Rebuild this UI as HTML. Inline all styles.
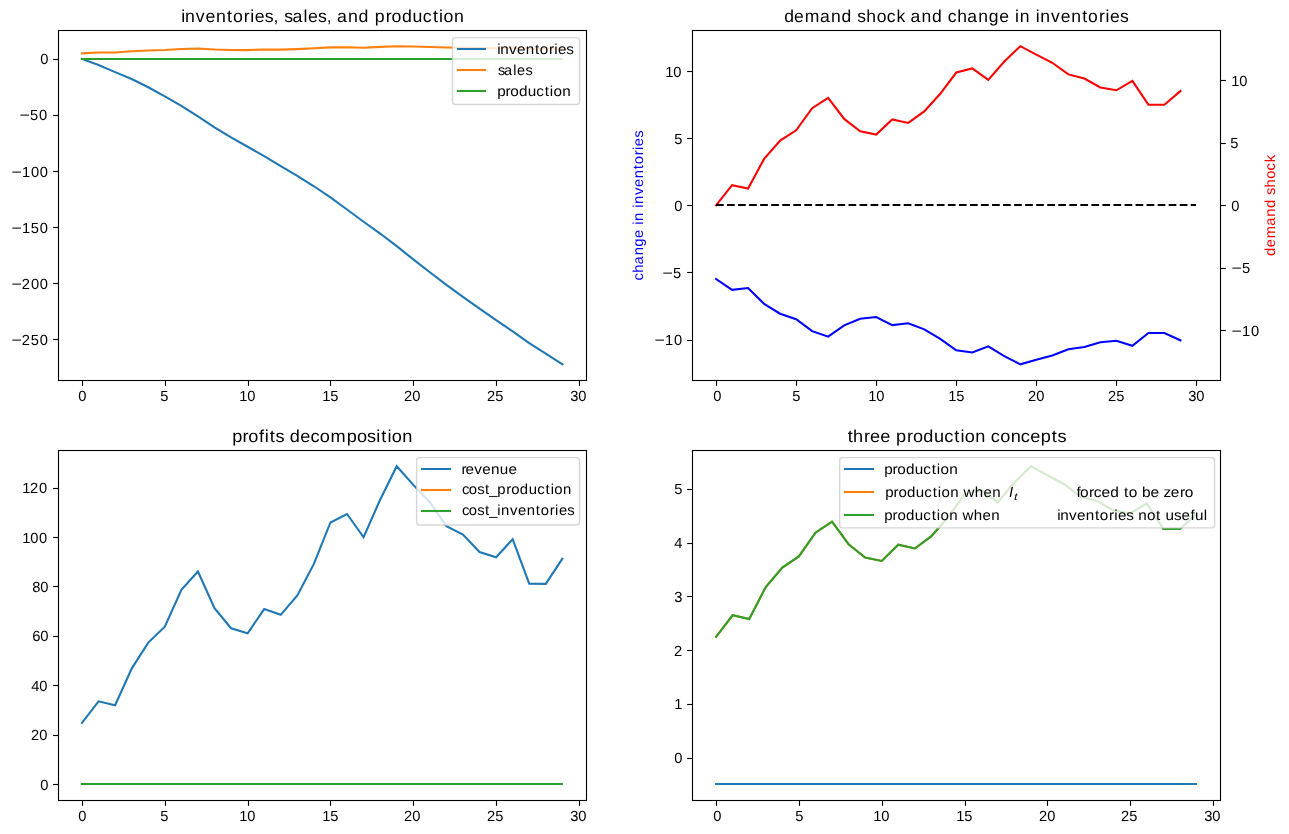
<!DOCTYPE html>
<html><head><meta charset="utf-8"><title>inventories</title>
<style>html,body{margin:0;padding:0;background:#fff}svg{display:block;will-change:transform}text{font-family:"Liberation Sans",sans-serif;white-space:pre;text-rendering:geometricPrecision}</style>
</head><body>
<svg width="1289" height="834" viewBox="0 0 1289 834" font-family="'Liberation Sans', sans-serif">
<rect width="1289" height="834" fill="#fff"/>
<polyline points="81.99,58.93 98.55,65.08 115.12,72.13 131.68,79.03 148.25,87.26 164.81,96.30 181.38,105.81 197.94,116.31 214.50,127.27 231.07,137.28 247.63,146.75 264.20,156.07 280.76,166.06 297.33,175.90 313.89,186.25 330.46,197.39 347.02,209.49 363.59,221.76 380.15,233.53 396.71,246.11 413.28,259.38 429.84,272.27 446.41,284.80 462.97,296.81 479.54,308.63 496.10,320.05 512.67,331.35 529.23,343.07 545.80,353.72 562.36,364.37" fill="none" stroke="#1f77b4" stroke-width="2.083" stroke-linejoin="miter" stroke-miterlimit="10" stroke-linecap="square" />
<polyline points="81.99,53.32 98.55,52.42 115.12,52.57 131.68,51.24 148.25,50.43 164.81,49.96 181.38,48.97 197.94,48.51 214.50,49.45 231.07,50.00 247.63,50.15 264.20,49.47 280.76,49.63 297.33,49.11 313.89,48.32 330.46,47.37 347.02,47.19 363.59,47.70 380.15,46.88 396.71,46.19 413.28,46.57 429.84,46.93 446.41,47.45 462.97,47.64 479.54,48.04 496.10,48.17 512.67,47.75 529.23,48.81 545.80,48.82 562.36,48.20" fill="none" stroke="#ff7f0e" stroke-width="2.083" stroke-linejoin="miter" stroke-miterlimit="10" stroke-linecap="square" />
<line x1="82" y1="59" x2="562" y2="59" stroke="#2ca02c" stroke-width="2.083" stroke-linecap="square" />
<polyline points="716.08,279.04 732.09,289.83 748.10,287.99 764.12,303.91 780.13,313.70 796.14,319.27 812.15,331.13 828.17,336.63 844.18,325.37 860.19,318.73 876.20,316.99 892.22,325.10 908.23,323.22 924.24,329.39 940.25,338.84 956.27,350.24 972.28,352.46 988.29,346.29 1004.30,356.11 1020.32,364.37 1036.33,359.83 1052.34,355.47 1068.35,349.24 1084.36,347.02 1100.38,342.20 1116.39,340.72 1132.40,345.75 1148.41,333.01 1164.43,332.94 1180.44,340.32" fill="none" stroke="#0000ff" stroke-width="2.083" stroke-linejoin="miter" stroke-miterlimit="10" stroke-linecap="square" />
<polyline points="716.08,205.28 732.09,185.15 748.10,188.59 764.12,158.90 780.13,140.65 796.14,130.28 812.15,108.15 828.17,97.90 844.18,118.90 860.19,131.28 876.20,134.53 892.22,119.40 908.23,122.90 924.24,111.40 940.25,93.78 956.27,72.53 972.28,68.40 988.29,79.90 1004.30,61.59 1020.32,46.19 1036.33,54.65 1052.34,62.78 1068.35,74.40 1084.36,78.53 1100.38,87.53 1116.39,90.28 1132.40,80.90 1148.41,104.65 1164.43,104.78 1180.44,91.03" fill="none" stroke="#ff0000" stroke-width="2.083" stroke-linejoin="miter" stroke-miterlimit="10" stroke-linecap="square" />
<line x1="716" y1="205" x2="1196" y2="205" stroke="#000" stroke-width="2.083" stroke-dasharray="7.708 3.333"/>
<polyline points="81.99,722.77 98.55,701.34 115.12,705.22 131.68,668.58 148.25,642.61 164.81,626.67 181.38,589.85 197.94,571.48 214.50,608.22 231.07,628.24 247.63,633.30 264.20,609.06 280.76,614.83 297.33,595.50 313.89,563.86 330.46,522.45 347.02,514.00 363.59,537.23 380.15,499.75 396.71,466.19 413.28,484.86 429.84,502.26 446.41,526.25 462.97,534.50 479.54,552.05 496.10,557.28 512.67,539.20 529.23,583.67 545.80,583.89 562.36,558.70" fill="none" stroke="#1f77b4" stroke-width="2.083" stroke-linejoin="miter" stroke-miterlimit="10" stroke-linecap="square" />
<line x1="82" y1="784" x2="562" y2="784" stroke="#ff7f0e" stroke-width="2.083" stroke-linecap="square" />
<line x1="82" y1="784" x2="562" y2="784" stroke="#2ca02c" stroke-width="2.083" stroke-linecap="square" />
<line x1="716" y1="784" x2="1196" y2="784" stroke="#1f77b4" stroke-width="2.083" stroke-linecap="square" />
<polyline points="716.08,636.86 732.64,615.27 749.21,618.96 765.77,587.11 782.34,567.53 798.90,556.40 815.47,532.66 832.03,521.67 848.60,544.20 865.16,557.47 881.73,560.96 898.29,544.73 914.85,548.49 931.42,536.15 947.98,517.24 964.55,494.44 981.11,490.02 997.68,502.36 1014.24,482.71 1030.81,466.19 1047.37,475.27 1063.94,483.98 1080.50,496.46 1097.06,500.88 1113.63,510.54 1130.19,513.49 1146.76,503.43 1163.32,528.91 1179.89,529.04 1196.45,514.29" fill="none" stroke="#ff7f0e" stroke-width="2.083" stroke-linejoin="miter" stroke-miterlimit="10" stroke-linecap="square" />
<polyline points="716.08,636.86 732.64,615.27 749.21,618.96 765.77,587.11 782.34,567.53 798.90,556.40 815.47,532.66 832.03,521.67 848.60,544.20 865.16,557.47 881.73,560.96 898.29,544.73 914.85,548.49 931.42,536.15 947.98,517.24 964.55,494.44 981.11,490.02 997.68,502.36 1014.24,482.71 1030.81,466.19 1047.37,475.27 1063.94,483.98 1080.50,496.46 1097.06,500.88 1113.63,510.54 1130.19,513.49 1146.76,503.43 1163.32,528.91 1179.89,529.04 1196.45,514.29" fill="none" stroke="#2ca02c" stroke-width="2.083" stroke-linejoin="miter" stroke-miterlimit="10" stroke-linecap="square" />
<rect x="58.5" y="30.5" width="528.0" height="350.0" fill="none" stroke="#000" stroke-width="1.11"/>
<line x1="82.5" y1="381.0" x2="82.5" y2="385.86" stroke="#000" stroke-width="1.11"/>
<line x1="165.5" y1="381.0" x2="165.5" y2="385.86" stroke="#000" stroke-width="1.11"/>
<line x1="248.5" y1="381.0" x2="248.5" y2="385.86" stroke="#000" stroke-width="1.11"/>
<line x1="330.5" y1="381.0" x2="330.5" y2="385.86" stroke="#000" stroke-width="1.11"/>
<line x1="413.5" y1="381.0" x2="413.5" y2="385.86" stroke="#000" stroke-width="1.11"/>
<line x1="496.5" y1="381.0" x2="496.5" y2="385.86" stroke="#000" stroke-width="1.11"/>
<line x1="579.5" y1="381.0" x2="579.5" y2="385.86" stroke="#000" stroke-width="1.11"/>
<rect x="692.5" y="30.5" width="528.0" height="350.0" fill="none" stroke="#000" stroke-width="1.11"/>
<line x1="716.5" y1="381.0" x2="716.5" y2="385.86" stroke="#000" stroke-width="1.11"/>
<line x1="796.5" y1="381.0" x2="796.5" y2="385.86" stroke="#000" stroke-width="1.11"/>
<line x1="876.5" y1="381.0" x2="876.5" y2="385.86" stroke="#000" stroke-width="1.11"/>
<line x1="956.5" y1="381.0" x2="956.5" y2="385.86" stroke="#000" stroke-width="1.11"/>
<line x1="1036.5" y1="381.0" x2="1036.5" y2="385.86" stroke="#000" stroke-width="1.11"/>
<line x1="1116.5" y1="381.0" x2="1116.5" y2="385.86" stroke="#000" stroke-width="1.11"/>
<line x1="1196.5" y1="381.0" x2="1196.5" y2="385.86" stroke="#000" stroke-width="1.11"/>
<rect x="58.5" y="450.5" width="528.0" height="350.0" fill="none" stroke="#000" stroke-width="1.11"/>
<line x1="82.5" y1="801.0" x2="82.5" y2="805.86" stroke="#000" stroke-width="1.11"/>
<line x1="165.5" y1="801.0" x2="165.5" y2="805.86" stroke="#000" stroke-width="1.11"/>
<line x1="248.5" y1="801.0" x2="248.5" y2="805.86" stroke="#000" stroke-width="1.11"/>
<line x1="330.5" y1="801.0" x2="330.5" y2="805.86" stroke="#000" stroke-width="1.11"/>
<line x1="413.5" y1="801.0" x2="413.5" y2="805.86" stroke="#000" stroke-width="1.11"/>
<line x1="496.5" y1="801.0" x2="496.5" y2="805.86" stroke="#000" stroke-width="1.11"/>
<line x1="579.5" y1="801.0" x2="579.5" y2="805.86" stroke="#000" stroke-width="1.11"/>
<rect x="692.5" y="450.5" width="528.0" height="350.0" fill="none" stroke="#000" stroke-width="1.11"/>
<line x1="716.5" y1="801.0" x2="716.5" y2="805.86" stroke="#000" stroke-width="1.11"/>
<line x1="799.5" y1="801.0" x2="799.5" y2="805.86" stroke="#000" stroke-width="1.11"/>
<line x1="882.5" y1="801.0" x2="882.5" y2="805.86" stroke="#000" stroke-width="1.11"/>
<line x1="965.5" y1="801.0" x2="965.5" y2="805.86" stroke="#000" stroke-width="1.11"/>
<line x1="1047.5" y1="801.0" x2="1047.5" y2="805.86" stroke="#000" stroke-width="1.11"/>
<line x1="1130.5" y1="801.0" x2="1130.5" y2="805.86" stroke="#000" stroke-width="1.11"/>
<line x1="1213.5" y1="801.0" x2="1213.5" y2="805.86" stroke="#000" stroke-width="1.11"/>
<line x1="53.14" y1="59.5" x2="58.0" y2="59.5" stroke="#000" stroke-width="1.11"/>
<line x1="53.14" y1="115.5" x2="58.0" y2="115.5" stroke="#000" stroke-width="1.11"/>
<line x1="53.14" y1="171.5" x2="58.0" y2="171.5" stroke="#000" stroke-width="1.11"/>
<line x1="53.14" y1="227.5" x2="58.0" y2="227.5" stroke="#000" stroke-width="1.11"/>
<line x1="53.14" y1="283.5" x2="58.0" y2="283.5" stroke="#000" stroke-width="1.11"/>
<line x1="53.14" y1="339.5" x2="58.0" y2="339.5" stroke="#000" stroke-width="1.11"/>
<line x1="687.14" y1="340.5" x2="692.0" y2="340.5" stroke="#000" stroke-width="1.11"/>
<line x1="687.14" y1="272.5" x2="692.0" y2="272.5" stroke="#000" stroke-width="1.11"/>
<line x1="687.14" y1="205.5" x2="692.0" y2="205.5" stroke="#000" stroke-width="1.11"/>
<line x1="687.14" y1="138.5" x2="692.0" y2="138.5" stroke="#000" stroke-width="1.11"/>
<line x1="687.14" y1="71.5" x2="692.0" y2="71.5" stroke="#000" stroke-width="1.11"/>
<line x1="1221.0" y1="330.5" x2="1225.86" y2="330.5" stroke="#000" stroke-width="1.11"/>
<line x1="1221.0" y1="268.5" x2="1225.86" y2="268.5" stroke="#000" stroke-width="1.11"/>
<line x1="1221.0" y1="205.5" x2="1225.86" y2="205.5" stroke="#000" stroke-width="1.11"/>
<line x1="1221.0" y1="143.5" x2="1225.86" y2="143.5" stroke="#000" stroke-width="1.11"/>
<line x1="1221.0" y1="80.5" x2="1225.86" y2="80.5" stroke="#000" stroke-width="1.11"/>
<line x1="53.14" y1="784.5" x2="58.0" y2="784.5" stroke="#000" stroke-width="1.11"/>
<line x1="53.14" y1="735.5" x2="58.0" y2="735.5" stroke="#000" stroke-width="1.11"/>
<line x1="53.14" y1="685.5" x2="58.0" y2="685.5" stroke="#000" stroke-width="1.11"/>
<line x1="53.14" y1="636.5" x2="58.0" y2="636.5" stroke="#000" stroke-width="1.11"/>
<line x1="53.14" y1="586.5" x2="58.0" y2="586.5" stroke="#000" stroke-width="1.11"/>
<line x1="53.14" y1="537.5" x2="58.0" y2="537.5" stroke="#000" stroke-width="1.11"/>
<line x1="53.14" y1="488.5" x2="58.0" y2="488.5" stroke="#000" stroke-width="1.11"/>
<line x1="687.14" y1="758.5" x2="692.0" y2="758.5" stroke="#000" stroke-width="1.11"/>
<line x1="687.14" y1="704.5" x2="692.0" y2="704.5" stroke="#000" stroke-width="1.11"/>
<line x1="687.14" y1="650.5" x2="692.0" y2="650.5" stroke="#000" stroke-width="1.11"/>
<line x1="687.14" y1="596.5" x2="692.0" y2="596.5" stroke="#000" stroke-width="1.11"/>
<line x1="687.14" y1="543.5" x2="692.0" y2="543.5" stroke="#000" stroke-width="1.11"/>
<line x1="687.14" y1="489.5" x2="692.0" y2="489.5" stroke="#000" stroke-width="1.11"/>
<text transform="translate(78.00,401.00) scale(1.0000,1)" x="0.31" font-size="14.7" fill="#000">0</text>
<text transform="translate(160.00,401.00) scale(1.0000,1)" x="0.26" font-size="14.7" fill="#000">5</text>
<text transform="translate(239.00,401.00) scale(1.0000,1)" x="0.23 8.26" font-size="14.7" fill="#000">10</text>
<text transform="translate(322.00,401.00) scale(1.0000,1)" x="0.23 8.20" font-size="14.7" fill="#000">15</text>
<text transform="translate(404.00,401.00) scale(1.0000,1)" x="0.12 8.26" font-size="14.7" fill="#000">20</text>
<text transform="translate(487.00,401.00) scale(1.0000,1)" x="0.12 8.20" font-size="14.7" fill="#000">25</text>
<text transform="translate(570.00,401.00) scale(1.0000,1)" x="0.33 8.26" font-size="14.7" fill="#000">30</text>
<text transform="translate(713.00,401.00) scale(1.0000,1)" x="0.31" font-size="14.7" fill="#000">0</text>
<text transform="translate(792.00,401.00) scale(1.0000,1)" x="0.26" font-size="14.7" fill="#000">5</text>
<text transform="translate(868.00,401.00) scale(1.0000,1)" x="0.23 8.26" font-size="14.7" fill="#000">10</text>
<text transform="translate(948.00,401.00) scale(1.0000,1)" x="0.23 8.20" font-size="14.7" fill="#000">15</text>
<text transform="translate(1028.00,401.00) scale(1.0000,1)" x="0.12 8.26" font-size="14.7" fill="#000">20</text>
<text transform="translate(1108.00,401.00) scale(1.0000,1)" x="0.12 8.20" font-size="14.7" fill="#000">25</text>
<text transform="translate(1188.00,401.00) scale(1.0000,1)" x="0.33 8.26" font-size="14.7" fill="#000">30</text>
<text transform="translate(78.00,821.00) scale(1.0000,1)" x="0.31" font-size="14.7" fill="#000">0</text>
<text transform="translate(160.00,821.00) scale(1.0000,1)" x="0.26" font-size="14.7" fill="#000">5</text>
<text transform="translate(239.00,821.00) scale(1.0000,1)" x="0.23 8.26" font-size="14.7" fill="#000">10</text>
<text transform="translate(322.00,821.00) scale(1.0000,1)" x="0.23 8.20" font-size="14.7" fill="#000">15</text>
<text transform="translate(404.00,821.00) scale(1.0000,1)" x="0.12 8.26" font-size="14.7" fill="#000">20</text>
<text transform="translate(487.00,821.00) scale(1.0000,1)" x="0.12 8.20" font-size="14.7" fill="#000">25</text>
<text transform="translate(570.00,821.00) scale(1.0000,1)" x="0.33 8.26" font-size="14.7" fill="#000">30</text>
<text transform="translate(713.00,821.00) scale(1.0000,1)" x="0.31" font-size="14.7" fill="#000">0</text>
<text transform="translate(795.00,821.00) scale(1.0000,1)" x="0.26" font-size="14.7" fill="#000">5</text>
<text transform="translate(873.00,821.00) scale(1.0000,1)" x="0.23 8.26" font-size="14.7" fill="#000">10</text>
<text transform="translate(956.00,821.00) scale(1.0000,1)" x="0.23 8.20" font-size="14.7" fill="#000">15</text>
<text transform="translate(1039.00,821.00) scale(1.0000,1)" x="0.12 8.26" font-size="14.7" fill="#000">20</text>
<text transform="translate(1121.00,821.00) scale(1.0000,1)" x="0.12 8.20" font-size="14.7" fill="#000">25</text>
<text transform="translate(1204.00,821.00) scale(1.0000,1)" x="0.33 8.26" font-size="14.7" fill="#000">30</text>
<text transform="translate(40.00,64.00) scale(1.0000,1)" x="0.31" font-size="14.7" fill="#000">0</text>
<text transform="translate(19.00,120.00) scale(1.2140,1)" x="0.48" font-size="14.7" fill="#000">−</text>
<text transform="translate(19.00,120.00) scale(1.0000,1)" x="11.01 19.91" font-size="14.7" fill="#000">50</text>
<text transform="translate(11.00,177.00) scale(1.2140,1)" x="0.48" font-size="14.7" fill="#000">−</text>
<text transform="translate(11.00,177.00) scale(1.0000,1)" x="10.98 19.91 28.75" font-size="14.7" fill="#000">100</text>
<text transform="translate(11.00,233.00) scale(1.2140,1)" x="0.48" font-size="14.7" fill="#000">−</text>
<text transform="translate(11.00,233.00) scale(1.0000,1)" x="10.98 19.85 28.75" font-size="14.7" fill="#000">150</text>
<text transform="translate(11.00,289.00) scale(1.2140,1)" x="0.48" font-size="14.7" fill="#000">−</text>
<text transform="translate(11.00,289.00) scale(1.0000,1)" x="10.87 19.91 28.75" font-size="14.7" fill="#000">200</text>
<text transform="translate(11.00,345.00) scale(1.2140,1)" x="0.48" font-size="14.7" fill="#000">−</text>
<text transform="translate(11.00,345.00) scale(1.0000,1)" x="10.87 19.85 28.75" font-size="14.7" fill="#000">250</text>
<text transform="translate(654.00,345.00) scale(1.2140,1)" x="0.48" font-size="14.7" fill="#000">−</text>
<text transform="translate(654.00,345.00) scale(1.0000,1)" x="10.98 19.91" font-size="14.7" fill="#000">10</text>
<text transform="translate(662.00,278.00) scale(1.2140,1)" x="0.48" font-size="14.7" fill="#000">−</text>
<text transform="translate(662.00,278.00) scale(1.0000,1)" x="11.01" font-size="14.7" fill="#000">5</text>
<text transform="translate(674.00,211.00) scale(1.0000,1)" x="0.31" font-size="14.7" fill="#000">0</text>
<text transform="translate(674.00,144.00) scale(1.0000,1)" x="0.26" font-size="14.7" fill="#000">5</text>
<text transform="translate(665.00,77.00) scale(1.0000,1)" x="0.23 8.26" font-size="14.7" fill="#000">10</text>
<text transform="translate(1231.00,336.00) scale(1.2140,1)" x="0.48" font-size="14.7" fill="#000">−</text>
<text transform="translate(1231.00,336.00) scale(1.0000,1)" x="10.98 19.91" font-size="14.7" fill="#000">10</text>
<text transform="translate(1231.00,273.00) scale(1.2140,1)" x="0.48" font-size="14.7" fill="#000">−</text>
<text transform="translate(1231.00,273.00) scale(1.0000,1)" x="11.01" font-size="14.7" fill="#000">5</text>
<text transform="translate(1231.00,211.00) scale(1.0000,1)" x="0.31" font-size="14.7" fill="#000">0</text>
<text transform="translate(1230.00,148.00) scale(1.0000,1)" x="0.26" font-size="14.7" fill="#000">5</text>
<text transform="translate(1231.00,86.00) scale(1.0000,1)" x="0.23 8.26" font-size="14.7" fill="#000">10</text>
<text transform="translate(40.00,790.00) scale(1.0000,1)" x="0.31" font-size="14.7" fill="#000">0</text>
<text transform="translate(31.00,740.00) scale(1.0000,1)" x="0.12 8.26" font-size="14.7" fill="#000">20</text>
<text transform="translate(31.00,691.00) scale(1.0000,1)" x="0.30 8.26" font-size="14.7" fill="#000">40</text>
<text transform="translate(32.00,641.00) scale(1.0079,1)" x="0.27 8.16" font-size="14.7" fill="#000">60</text>
<text transform="translate(32.00,592.00) scale(1.0000,1)" x="0.30 8.26" font-size="14.7" fill="#000">80</text>
<text transform="translate(22.00,543.00) scale(1.0000,1)" x="0.23 8.26 17.10" font-size="14.7" fill="#000">100</text>
<text transform="translate(22.00,493.00) scale(1.0000,1)" x="0.23 8.06 17.10" font-size="14.7" fill="#000">120</text>
<text transform="translate(674.00,763.00) scale(1.0000,1)" x="0.31" font-size="14.7" fill="#000">0</text>
<text transform="translate(674.00,709.00) scale(1.0000,1)" x="0.23" font-size="14.7" fill="#000">1</text>
<text transform="translate(674.00,656.00) scale(1.0000,1)" x="0.12" font-size="14.7" fill="#000">2</text>
<text transform="translate(674.00,602.00) scale(1.0000,1)" x="0.33" font-size="14.7" fill="#000">3</text>
<text transform="translate(674.00,548.00) scale(1.0000,1)" x="0.30" font-size="14.7" fill="#000">4</text>
<text transform="translate(674.00,494.00) scale(1.0000,1)" x="0.26" font-size="14.7" fill="#000">5</text>
<text transform="translate(181.00,22.00) scale(1.0233,1)" x="0.34 4.02 14.50 23.92 34.14 44.88 50.71 61.33 67.64 72.05 81.91 90.43 95.64 100.84 108.88 119.71 124.13 134.00 142.52 147.72 152.44 163.30 173.55 183.70 189.32 200.04 205.80 215.90 226.33 236.35 246.15 252.17 256.52 266.74" font-size="17.34" fill="#000">inventories, sales, and production</text>
<text transform="translate(784.00,22.00) scale(1.0121,1)" x="0.28 9.87 20.60 35.48 46.45 56.81 67.02 72.33 81.29 91.58 101.48 111.13 120.17 125.01 135.98 146.34 156.55 161.79 171.30 180.96 191.94 202.29 212.77 222.69 228.31 232.95 243.02 248.64 253.29 263.88 273.41 283.74 294.58 300.49 311.22 317.58 322.07 332.04" font-size="17.34" fill="#000">demand shock and change in inventories</text>
<text transform="translate(232.00,442.00) scale(1.0469,1)" x="0.30 9.96 15.55 25.88 31.22 36.04 41.55 49.98 55.18 65.30 74.88 83.88 94.17 109.50 119.39 129.05 137.76 142.58 148.48 152.66 162.65" font-size="17.34" fill="#000">profits decomposition</text>
<text transform="translate(847.00,442.00) scale(1.0463,1)" x="0.66 5.63 16.22 21.88 31.72 41.48 46.86 57.38 62.98 72.86 83.06 92.87 102.49 108.40 112.59 122.58 132.48 137.40 146.40 156.40 166.13 175.19 185.24 195.76 201.28" font-size="17.34" fill="#000">three production concepts</text>
<text transform="translate(643.00,280.57) rotate(-90) scale(1.0307,1)" x="-0.06 7.68 15.55 24.48 32.91 41.43 49.54 54.11 57.86 66.10 70.66 74.41 83.04 90.78 99.19 108.04 112.83 121.58 126.77 130.39 138.50" font-size="14.45" fill="#0000ff">change in inventories</text>
<text transform="translate(1275.00,256.35) rotate(-90) scale(1.0201,1)" x="0.24 8.85 17.68 29.91 38.93 47.45 55.84 60.20 67.57 76.04 84.18 92.13" font-size="14.45" fill="#ff0000">demand shock</text>
<rect x="452.53" y="37.65" width="127.02" height="66.88" rx="2.78" ry="2.78" fill="#fff" fill-opacity="0.8" stroke="#ccc" stroke-opacity="0.8" stroke-width="1.39"/>
<line x1="458" y1="49" x2="485" y2="49" stroke="#1f77b4" stroke-width="2.083" stroke-linecap="square"/>
<line x1="458" y1="70" x2="485" y2="70" stroke="#ff7f0e" stroke-width="2.083" stroke-linecap="square"/>
<line x1="458" y1="91" x2="485" y2="91" stroke="#2ca02c" stroke-width="2.083" stroke-linecap="square"/>
<text transform="translate(497.00,54.00) scale(1.0528,1)" x="0.25 3.02 11.49 19.08 27.33 36.04 40.71 49.31 54.42 57.93 65.90" font-size="14.45" fill="#000">inventories</text>
<text transform="translate(498.00,75.00) scale(1.0000,1)" x="0.11 6.08 15.20 19.02 27.39" font-size="14.45" fill="#000">sales</text>
<text transform="translate(497.00,96.00) scale(1.0597,1)" x="0.24 8.02 12.60 20.71 29.07 37.11 45.01 49.85 53.28 61.47" font-size="14.45" fill="#000">production</text>
<rect x="416.65" y="457.65" width="162.90" height="67.30" rx="2.78" ry="2.78" fill="#fff" fill-opacity="0.8" stroke="#ccc" stroke-opacity="0.8" stroke-width="1.39"/>
<line x1="422" y1="469" x2="450" y2="469" stroke="#1f77b4" stroke-width="2.083" stroke-linecap="square"/>
<line x1="422" y1="490" x2="450" y2="490" stroke="#ff7f0e" stroke-width="2.083" stroke-linecap="square"/>
<line x1="422" y1="511" x2="450" y2="511" stroke="#2ca02c" stroke-width="2.083" stroke-linecap="square"/>
<text transform="translate(461.00,474.00) scale(1.0565,1)" x="0.55 4.34 12.67 20.23 28.45 36.73 45.01" font-size="14.45" fill="#000">revenue</text>
<text transform="translate(462.00,494.00) scale(1.0308,1)" x="-0.06 6.67 14.79 22.43 26.51 34.21 43.04 47.79 56.12 64.72 72.97 81.05 86.02 89.61 98.03" font-size="14.45" fill="#000">cost_production</text>
<text transform="translate(462.00,515.00) scale(1.0271,1)" x="-0.04 6.70 14.86 22.51 26.61 34.27 38.05 46.72 54.51 62.96 71.84 76.67 85.46 90.67 94.33 102.48" font-size="14.45" fill="#000">cost_inventories</text>
<rect x="839.65" y="457.65" width="374.92" height="70.25" rx="2.78" ry="2.78" fill="#fff" fill-opacity="0.8" stroke="#ccc" stroke-opacity="0.8" stroke-width="1.39"/>
<line x1="845" y1="469" x2="873" y2="469" stroke="#1f77b4" stroke-width="2.083" stroke-linecap="square"/>
<line x1="845" y1="492" x2="873" y2="492" stroke="#ff7f0e" stroke-width="2.083" stroke-linecap="square"/>
<line x1="845" y1="515" x2="873" y2="515" stroke="#2ca02c" stroke-width="2.083" stroke-linecap="square"/>
<text transform="translate(884.00,474.00) scale(1.0597,1)" x="0.24 8.02 12.60 20.71 29.07 37.11 45.01 49.85 53.28 61.47" font-size="14.45" fill="#000">production</text>
<text transform="translate(885.00,497.00) scale(1.0451,1)" x="0.30 8.17 12.83 21.05 29.53 37.67 45.66 50.57 54.07 62.38 70.58 75.03 85.90 94.23 102.54" font-size="14.45" fill="#000">production when</text>
<text transform="translate(1009.30,497.00) scale(1.0239,1)" x="-0.20" font-size="14.45" fill="#000" font-style="italic">I</text>
<text transform="translate(1013.90,500.00) scale(1.2874,1)" x="0.03" font-size="10.114999999999998" fill="#000" font-style="italic">t</text>
<text transform="translate(1076.00,497.00) scale(1.0726,1)" x="0.44 3.69 12.15 16.51 23.84 31.85 40.03 44.66 49.20 57.17 61.47 69.52 77.49 81.48 88.42 96.89 101.40" font-size="14.45" fill="#000">forced to be zero</text>
<text transform="translate(884.00,520.00) scale(1.0451,1)" x="0.30 8.17 12.83 21.05 29.53 37.67 45.66 50.57 54.07 62.38 70.58 75.03 85.90 94.23 102.54" font-size="14.45" fill="#000">production when</text>
<text transform="translate(1057.00,520.00) scale(1.0558,1)" x="0.24 3.00 11.45 19.02 27.24 35.93 40.58 49.16 54.27 57.75 65.70 72.65 77.03 85.20 93.78 98.40 102.72 110.84 117.86 126.37 130.66 139.11" font-size="14.45" fill="#000">inventories not useful</text>
</svg>
</body></html>
